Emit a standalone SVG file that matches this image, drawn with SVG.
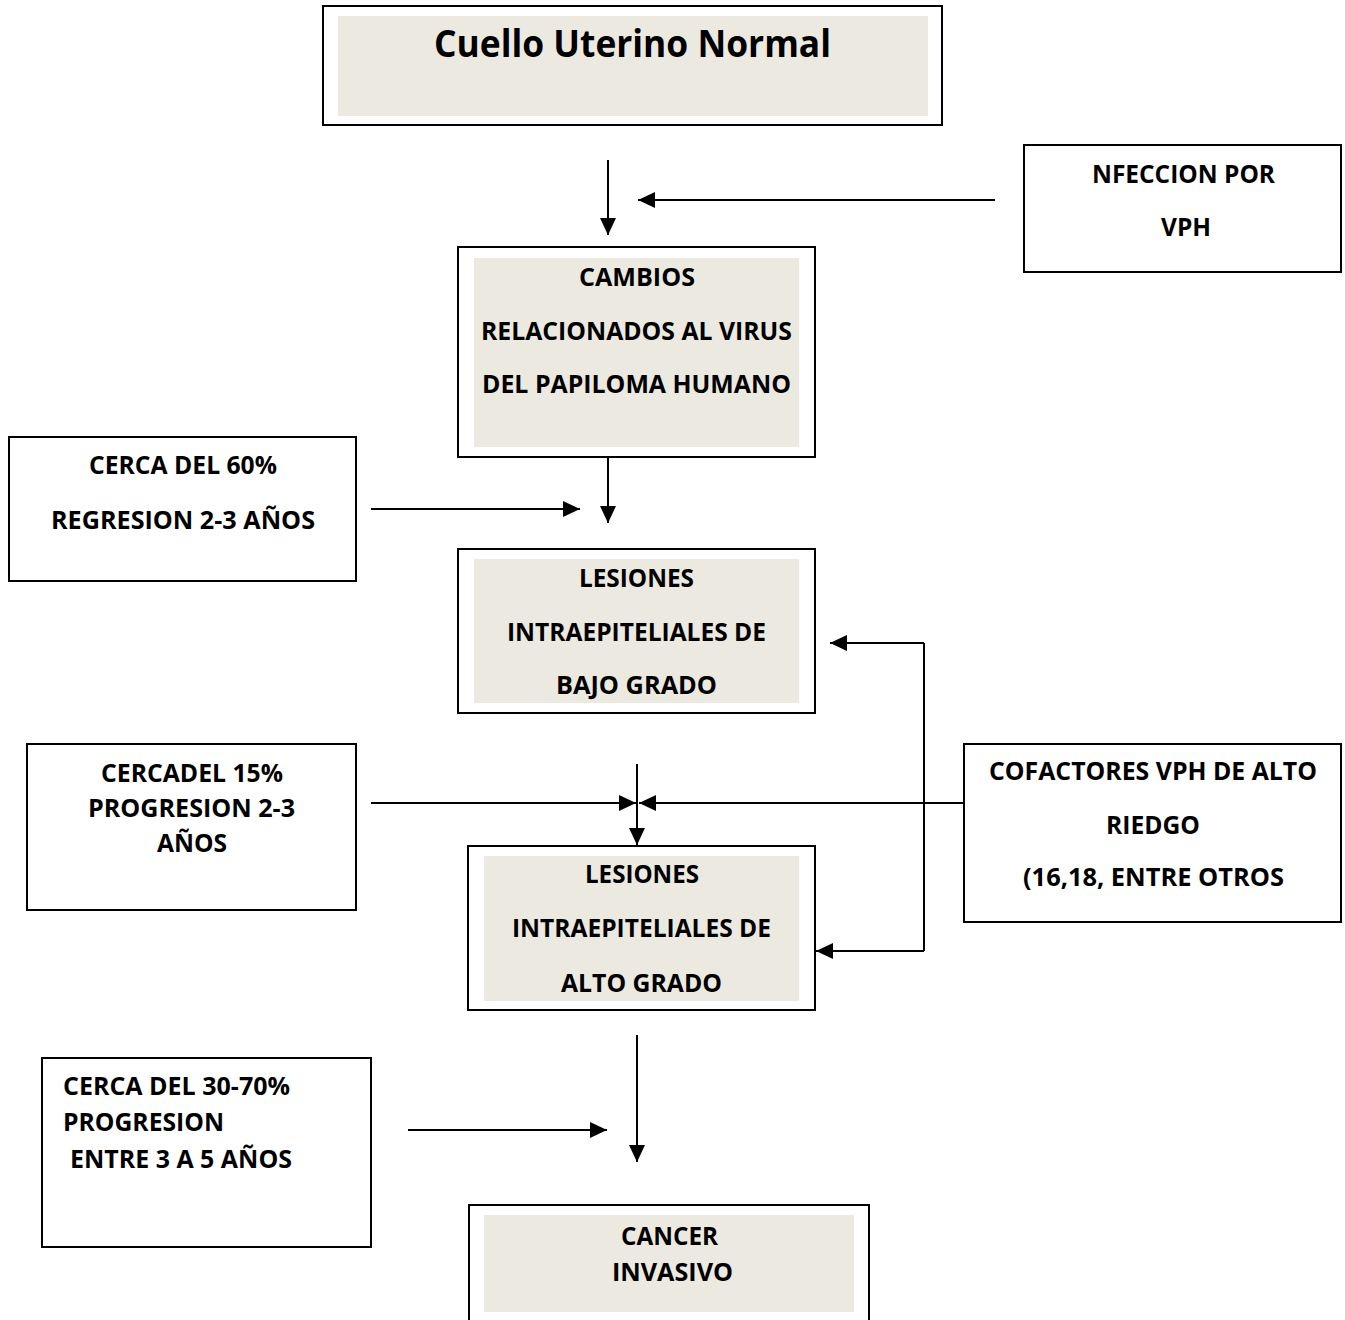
<svg xmlns="http://www.w3.org/2000/svg" width="1345" height="1320" viewBox="0 0 1345 1320">
<style>
.box{fill:#fff;stroke:#000;stroke-width:2}
.fill{fill:#ECEAE0;stroke:none}
.t{font-family:"Open Sans",Lato,"Liberation Sans",sans-serif;font-weight:bold;font-size:25px;fill:#000}
.title{font-size:38px}
.c{stroke:#000;stroke-width:2;fill:none}
.a{marker-end:url(#ah)}
</style>
<defs>
<marker id="ah" markerUnits="userSpaceOnUse" markerWidth="17" markerHeight="16" refX="17" refY="8" orient="auto">
<path d="M0,0 L17,8 L0,16 z" fill="#000"/>
</marker>
</defs>
<rect width="1345" height="1320" fill="#fff"/>

<g id="n-normal">
<rect class="box" x="323" y="6" width="619" height="119"/>
<rect class="fill" x="338" y="16" width="590" height="100"/>
<text class="t title" x="434" y="57" textLength="397" lengthAdjust="spacingAndGlyphs">Cuello Uterino Normal</text>
</g>

<g id="n-infeccion">
<rect class="box" x="1024" y="145" width="317" height="127"/>
<text class="t" x="1092" y="183" textLength="183" lengthAdjust="spacingAndGlyphs">NFECCION POR</text>
<text class="t" x="1161" y="236" textLength="50" lengthAdjust="spacingAndGlyphs">VPH</text>
</g>

<g id="n-cambios">
<rect class="box" x="458" y="247" width="357" height="210"/>
<rect class="fill" x="474" y="258" width="325" height="189"/>
<text class="t" x="579" y="286" textLength="116" lengthAdjust="spacingAndGlyphs">CAMBIOS</text>
<text class="t" x="481" y="340" textLength="311" lengthAdjust="spacingAndGlyphs">RELACIONADOS AL VIRUS</text>
<text class="t" x="482" y="393" textLength="309" lengthAdjust="spacingAndGlyphs">DEL PAPILOMA HUMANO</text>
</g>

<g id="n-regresion">
<rect class="box" x="9" y="437" width="347" height="144"/>
<text class="t" x="89" y="474" textLength="188" lengthAdjust="spacingAndGlyphs">CERCA DEL 60%</text>
<text class="t" x="51" y="529" textLength="264" lengthAdjust="spacingAndGlyphs">REGRESION 2-3 AÑOS</text>
</g>

<g id="n-bajo">
<rect class="box" x="458" y="549" width="357" height="164"/>
<rect class="fill" x="474" y="559" width="325" height="144"/>
<text class="t" x="579" y="587" textLength="115" lengthAdjust="spacingAndGlyphs">LESIONES</text>
<text class="t" x="507" y="641" textLength="259" lengthAdjust="spacingAndGlyphs">INTRAEPITELIALES DE</text>
<text class="t" x="556" y="694" textLength="161" lengthAdjust="spacingAndGlyphs">BAJO GRADO</text>
</g>

<g id="n-progresion15">
<rect class="box" x="27" y="744" width="329" height="166"/>
<text class="t" x="101" y="782" textLength="182" lengthAdjust="spacingAndGlyphs">CERCADEL 15%</text>
<text class="t" x="88" y="817" textLength="207" lengthAdjust="spacingAndGlyphs">PROGRESION 2-3</text>
<text class="t" x="157" y="852" textLength="70" lengthAdjust="spacingAndGlyphs">AÑOS</text>
</g>

<g id="n-cofactores">
<rect class="box" x="964" y="744" width="377" height="178"/>
<text class="t" x="989" y="780" textLength="328" lengthAdjust="spacingAndGlyphs">COFACTORES VPH DE ALTO</text>
<text class="t" x="1106" y="834" textLength="94" lengthAdjust="spacingAndGlyphs">RIEDGO</text>
<text class="t" x="1023" y="886" textLength="261" lengthAdjust="spacingAndGlyphs">(16,18, ENTRE OTROS</text>
</g>

<g id="n-alto">
<rect class="box" x="468" y="846" width="347" height="164"/>
<rect class="fill" x="484" y="856" width="315" height="145"/>
<text class="t" x="585" y="883" textLength="114" lengthAdjust="spacingAndGlyphs">LESIONES</text>
<text class="t" x="512" y="937" textLength="259" lengthAdjust="spacingAndGlyphs">INTRAEPITELIALES DE</text>
<text class="t" x="561" y="992" textLength="161" lengthAdjust="spacingAndGlyphs">ALTO GRADO</text>
</g>

<g id="n-progresion30">
<rect class="box" x="42" y="1058" width="329" height="189"/>
<text class="t" x="63" y="1095" textLength="227" lengthAdjust="spacingAndGlyphs">CERCA DEL 30-70%</text>
<text class="t" x="63" y="1131" textLength="161" lengthAdjust="spacingAndGlyphs">PROGRESION</text>
<text class="t" x="70" y="1168" textLength="222" lengthAdjust="spacingAndGlyphs">ENTRE 3 A 5 AÑOS</text>
</g>

<g id="n-cancer">
<rect class="box" x="469" y="1205" width="400" height="130"/>
<rect class="fill" x="484" y="1215" width="370" height="97"/>
<text class="t" x="621" y="1245" textLength="97" lengthAdjust="spacingAndGlyphs">CANCER</text>
<text class="t" x="612" y="1281" textLength="121" lengthAdjust="spacingAndGlyphs">INVASIVO</text>
</g>

<g id="connectors">
<line class="c a" x1="608" y1="160" x2="608" y2="235"/>
<line class="c a" x1="995" y1="200" x2="638" y2="200"/>
<line class="c a" x1="608" y1="457" x2="608" y2="523"/>
<line class="c a" x1="371" y1="509" x2="580" y2="509"/>
<polyline class="c" points="924,643 924,951"/>
<line class="c a" x1="924" y1="643" x2="830" y2="643"/>
<line class="c a" x1="924" y1="951" x2="816" y2="951"/>
<line class="c a" x1="637" y1="764" x2="637" y2="845"/>
<line class="c a" x1="371" y1="803" x2="636" y2="803"/>
<line class="c a" x1="964" y1="803" x2="639" y2="803"/>
<line class="c a" x1="637" y1="1035" x2="637" y2="1162"/>
<line class="c a" x1="408" y1="1130" x2="607" y2="1130"/>
</g>
</svg>
